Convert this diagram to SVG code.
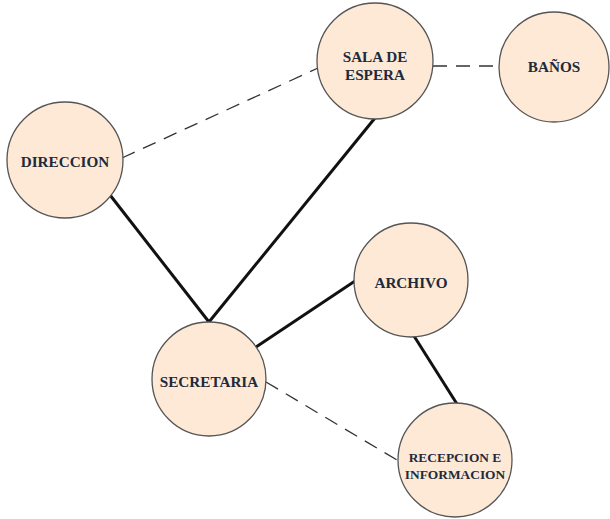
<svg xmlns="http://www.w3.org/2000/svg" width="610" height="519" viewBox="0 0 610 519">
<style>
.n{fill:#FDE9D5;stroke:#555;stroke-width:1.3}
.t{font-family:"Liberation Serif","Times New Roman",serif;font-weight:bold;font-size:15.2px;fill:#1f2a3a;text-anchor:middle}
.r{font-size:13.4px}
.s{stroke:#111;stroke-width:3;fill:none}
.d{stroke:#333;stroke-width:1.3;stroke-dasharray:14 9;fill:none}
</style>
<rect width="610" height="519" fill="#fff"/>
<g id="connectors">
<line class="d" x1="433" y1="66" x2="498" y2="66"/>
<line class="d" x1="122" y1="158" x2="318" y2="68"/>
<line class="s" x1="110" y1="195" x2="209" y2="322"/>
<line class="s" x1="375" y1="118" x2="209" y2="322"/>
<line class="s" x1="256" y1="347" x2="355" y2="281"/>
<line class="s" x1="414" y1="336" x2="457" y2="404"/>
<line class="d" x1="266" y1="382" x2="397" y2="460"/>
</g>
<g id="sala"><circle class="n" cx="375" cy="61" r="58"/><text class="t" x="375" y="62">SALA DE</text><text class="t" x="375" y="80">ESPERA</text></g>
<g id="banos"><circle class="n" cx="554" cy="67" r="55"/><text class="t" x="554" y="72">BAÑOS</text></g>
<g id="direccion"><circle class="n" cx="65" cy="160" r="58"/><text class="t" x="65" y="167">DIRECCION</text></g>
<g id="archivo"><circle class="n" cx="411" cy="280" r="57"/><text class="t" x="411" y="288">ARCHIVO</text></g>
<g id="secretaria"><circle class="n" cx="209" cy="379" r="57"/><text class="t" x="209" y="387">SECRETARIA</text></g>
<g id="recepcion"><circle class="n" cx="455" cy="460" r="57"/><text class="t r" x="455" y="462">RECEPCION E</text><text class="t r" x="455" y="479">INFORMACION</text></g>
</svg>
